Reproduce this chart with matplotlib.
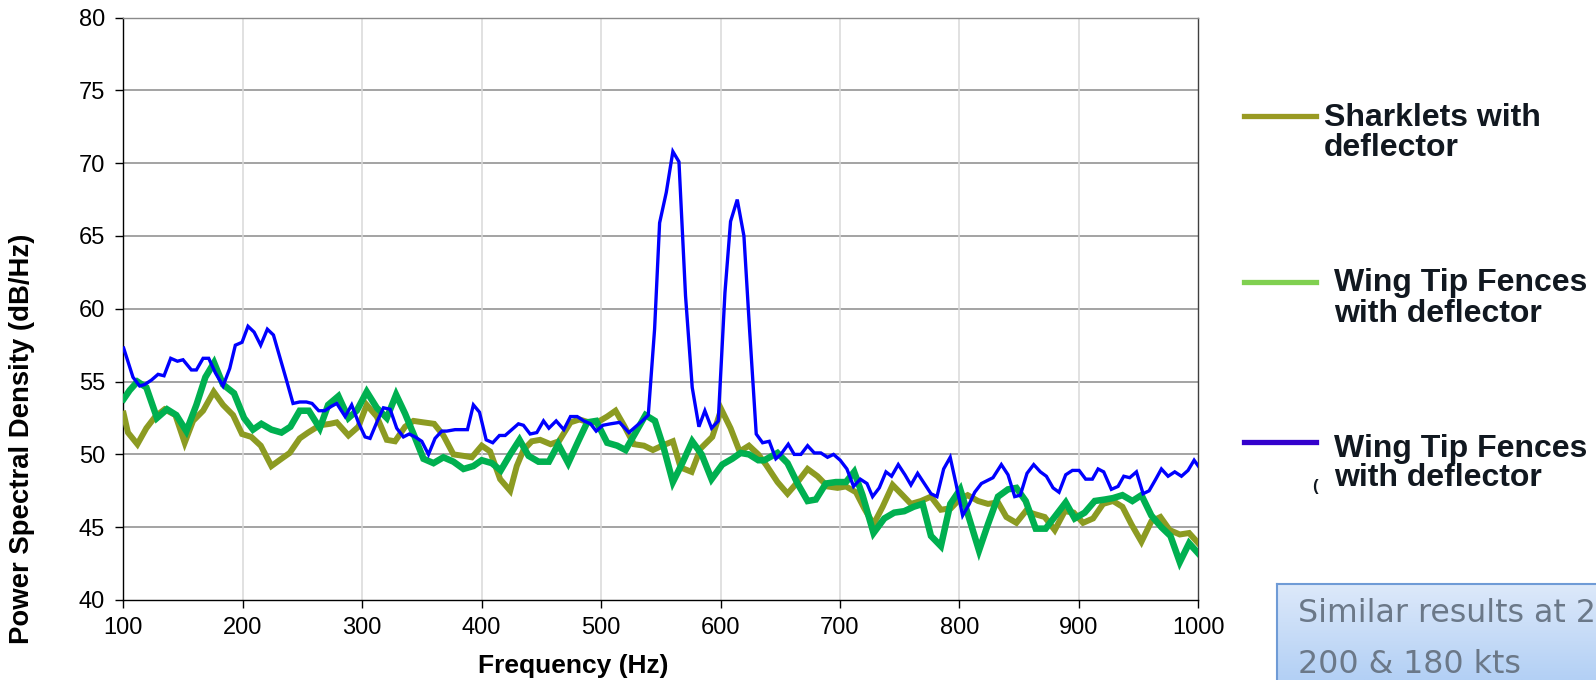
#!/usr/bin/env python3

import matplotlib as mpl
mpl.use('Agg')
import matplotlib.pyplot as plt
from matplotlib.lines import Line2D
import numpy as np

#======================================================================

W, H = 1596, 680

plt.rcParams['font.family'] = ['Liberation Sans', 'DejaVu Sans']

# Sharklets with deflector (olive)
sharklets_freq = [
    100.3, 103.9, 111.8, 119.3, 126.8, 134.6, 143.6, 151.4, 158.4, 166.8,
    175.7, 183.5, 191.9, 199.4, 207.2, 215.1, 224.0, 232.4, 239.3, 247.7,
    254.7, 264.5, 273.1, 278.7, 288.5, 296.8, 303.8, 312.2, 320.6, 327.5,
    335.9, 342.9, 351.3, 360.2, 368.0, 376.4, 384.8, 391.8, 400.1, 407.1,
    415.5, 423.9, 429.4, 435.0, 442.0, 449.0, 457.7, 464.7, 474.4, 481.9,
    489.8, 496.8, 505.1, 512.1, 519.1, 527.5, 535.9, 543.4, 551.2, 560.1,
    566.6, 575.8, 583.3, 593.1, 600.6, 608.4, 616.0, 623.8, 631.6, 638.0,
    647.7, 656.1, 664.5, 672.9, 681.2, 689.6, 698.0, 705.0, 713.4, 720.3,
    728.1, 735.7, 744.1, 752.4, 759.4, 767.8, 776.2, 784.5, 792.9, 799.9,
    806.9, 815.6, 823.9, 832.3, 839.3, 847.7, 855.5, 863.0, 871.4, 879.8,
    888.2, 895.7, 903.5, 911.9, 920.3, 928.6, 936.5, 944.0, 952.4, 960.7,
    968.3, 976.1, 984.5, 992.3, 1000.0]
sharklets_psd = [
    52.8, 51.5, 50.7, 51.8, 52.6, 53.1, 52.7, 50.8, 52.3, 53.0,
    54.3, 53.4, 52.7, 51.4, 51.2, 50.6, 49.2, 49.7, 50.1, 51.1,
    51.5, 52.0, 52.1, 52.2, 51.3, 51.9, 53.4, 52.6, 51.0, 50.9,
    51.9, 52.3, 52.2, 52.1, 51.3, 50.0, 49.9, 49.8, 50.6, 50.2,
    48.3, 47.5, 49.2, 50.3, 50.9, 51.0, 50.7, 50.9, 52.2, 52.4,
    52.2, 52.2, 52.6, 53.0, 52.0, 50.7, 50.6, 50.3, 50.6, 50.9,
    49.1, 48.8, 50.4, 51.2, 53.1, 51.8, 50.2, 50.6, 50.0, 49.3,
    48.1, 47.3, 48.1, 49.0, 48.5, 47.8, 47.7, 47.8, 47.4, 46.3,
    45.2, 46.4, 47.9, 47.2, 46.6, 46.8, 47.1, 46.2, 46.3, 46.9,
    47.2, 46.8, 46.6, 46.7, 45.7, 45.3, 46.1, 45.9, 45.7, 44.8,
    46.1, 46.0, 45.3, 45.6, 46.6, 46.8, 46.4, 45.2, 44.0, 45.4,
    45.7, 44.8, 44.5, 44.6, 43.9]

# Wing Tip Fences with deflector (green)
fences_freq = [
    100.3, 105.3, 111.8, 119.3, 128.2, 136.6, 144.4, 152.8, 161.2, 168.7,
    176.0, 183.5, 192.7, 201.1, 208.6, 215.6, 224.0, 232.4, 239.9, 247.7,
    255.3, 264.5, 271.5, 280.1, 288.5, 295.4, 303.8, 312.2, 320.6, 328.4,
    335.9, 343.5, 351.3, 359.7, 368.0, 376.4, 384.8, 393.1, 400.1, 408.5,
    416.0, 423.9, 431.7, 439.3, 447.6, 456.3, 464.1, 472.5, 480.9, 488.4,
    495.9, 505.1, 513.5, 520.5, 528.9, 537.2, 545.1, 552.6, 560.1, 568.0,
    576.3, 584.2, 592.5, 601.4, 609.8, 616.8, 623.8, 631.6, 636.6, 647.7,
    656.1, 664.5, 672.9, 679.8, 688.2, 696.6, 705.0, 711.9, 718.9, 728.1,
    737.1, 745.4, 753.8, 761.6, 769.2, 776.2, 784.5, 792.4, 800.7, 816.4,
    823.9, 832.3, 840.7, 847.7, 855.5, 863.9, 872.2, 880.6, 889.0, 896.5,
    904.9, 913.3, 921.7, 928.6, 936.5, 944.8, 952.4, 960.7, 969.1, 976.7,
    984.5, 992.3, 1000.0]
fences_psd = [
    53.8, 54.4, 55.0, 54.6, 52.5, 53.1, 52.7, 51.6, 53.4, 55.3,
    56.3, 54.8, 54.2, 52.5, 51.7, 52.1, 51.7, 51.5, 51.9, 53.0,
    53.0, 51.8, 53.4, 54.0, 52.5, 53.0, 54.3, 53.2, 52.5, 54.1,
    52.8, 51.3, 49.7, 49.4, 49.8, 49.5, 49.0, 49.2, 49.6, 49.4,
    48.9, 50.0, 51.0, 49.9, 49.5, 49.5, 50.7, 49.4, 50.9, 52.2,
    52.3, 50.8, 50.6, 50.3, 51.5, 52.7, 52.3, 50.4, 48.1, 49.4,
    50.9, 50.0, 48.3, 49.3, 49.7, 50.1, 50.0, 49.6, 49.6, 50.1,
    49.4, 48.0, 46.8, 46.9, 48.0, 48.1, 48.1, 48.8, 47.2, 44.6,
    45.6, 46.0, 46.1, 46.4, 46.6, 44.4, 43.7, 46.6, 47.6, 43.4,
    45.2, 47.1, 47.6, 47.7, 46.8, 44.9, 44.9, 45.8, 46.7, 45.6,
    46.0, 46.8, 46.9, 47.0, 47.2, 46.8, 47.2, 45.8, 45.0, 44.4,
    42.6, 43.9, 43.2]

# Wing Tip Fences with deflector (blue)
fences2_freq = [
    100.3, 108.1, 113.7, 117.9, 123.5, 129.1, 134.1, 139.7, 145.3, 150.0,
    157.0, 161.2, 166.8, 171.5, 177.1, 183.5, 189.1, 193.8, 199.4, 204.4,
    209.5, 215.0, 220.6, 225.7, 231.0, 236.6, 242.1, 247.7, 253.3, 258.0,
    263.6, 268.6, 274.2, 278.7, 285.7, 291.2, 296.8, 302.4, 306.6, 312.2,
    317.8, 323.4, 328.9, 334.5, 339.3, 344.3, 349.9, 355.5, 361.0, 366.6,
    370.8, 377.8, 383.4, 388.1, 393.1, 398.2, 403.8, 409.3, 414.9, 419.7,
    425.2, 430.8, 435.0, 440.6, 446.2, 451.8, 456.3, 462.4, 468.8, 474.4,
    480.0, 485.6, 491.2, 495.9, 501.5, 507.9, 515.5, 523.3, 528.9, 534.5,
    539.5, 544.8, 549.0, 554.6, 560.1, 565.2, 570.7, 576.3, 581.9, 586.9,
    592.5, 598.1, 603.7, 608.4, 614.0, 619.6, 624.3, 629.9, 635.2, 640.8,
    646.3, 650.5, 656.7, 661.7, 667.3, 672.9, 678.5, 684.0, 689.6, 694.6,
    700.2, 705.8, 711.4, 717.0, 722.6, 727.3, 732.9, 738.5, 743.2, 748.8,
    754.4, 759.4, 765.0, 770.6, 776.2, 781.2, 786.8, 792.3, 797.1, 802.7,
    808.3, 812.8, 818.4, 823.2, 828.1, 835.1, 840.7, 846.3, 851.0, 856.6,
    862.2, 867.8, 872.8, 878.4, 883.4, 889.0, 894.6, 900.2, 905.7, 911.3,
    916.1, 920.8, 927.2, 932.8, 937.6, 942.6, 948.2, 953.8, 958.8, 964.4,
    969.1, 974.7, 980.3, 985.9, 991.4, 996.5, 1000.0]
fences2_psd = [
    57.3, 55.3, 54.7, 54.8, 55.1, 55.5, 55.4, 56.6, 56.4, 56.5,
    55.8, 55.8, 56.6, 56.6, 55.6, 54.7, 55.9, 57.5, 57.7, 58.8,
    58.4, 57.5, 58.6, 58.2, 56.7, 55.1, 53.5, 53.6, 53.6, 53.5,
    53.0, 53.0, 53.3, 53.5, 52.6, 53.4, 52.2, 51.2, 51.1, 52.2,
    53.2, 53.1, 51.8, 51.2, 51.4, 51.2, 50.9, 50.0, 51.1, 51.6,
    51.6, 51.7, 51.7, 51.7, 53.4, 52.9, 51.0, 50.8, 51.3, 51.3,
    51.7, 52.1, 52.0, 51.4, 51.5, 52.3, 51.8, 52.3, 51.7, 52.6,
    52.6, 52.3, 52.1, 51.6, 52.0, 52.1, 52.2, 51.5, 51.9, 52.3,
    52.7, 58.6, 65.9, 68.0, 70.8, 70.1, 60.9, 54.6, 51.9, 53.0,
    51.8, 52.3, 61.1, 66.0, 67.5, 65.0, 58.6, 51.4, 50.8, 50.9,
    49.7, 50.0, 50.7, 50.0, 50.0, 50.6, 50.1, 50.1, 49.8, 50.0,
    49.6, 49.0, 47.8, 48.3, 48.0, 47.1, 47.7, 48.8, 48.5, 49.3,
    48.6, 47.9, 48.7, 48.0, 47.3, 47.1, 49.0, 49.8, 48.0, 45.8,
    46.6, 47.4, 48.0, 48.2, 48.4, 49.3, 48.6, 47.1, 47.2, 48.7,
    49.3, 48.8, 48.5, 47.7, 47.4, 48.6, 48.9, 48.9, 48.3, 48.3,
    49.0, 48.8, 47.6, 47.8, 48.5, 48.4, 48.8, 47.3, 47.5, 48.3,
    49.0, 48.5, 48.8, 48.5, 48.9, 49.6, 49.2]

legend_labels = [
    'Sharklets with\ndeflector',
    'Wing Tip Fences\nwith deflector',
    'Wing Tip Fences\nwith deflector',
]

note_lines = ['Similar results at 2', '200 & 180 kts']

#======================================================================

def fx(px):
    return px/W

def fy(py):
    return 1.0 - py/H

def main():
    fig = plt.figure(figsize=(W/100, H/100), dpi=100)
    ax = fig.add_axes([fx(123.3), fy(600), fx(1198.3) - fx(123.3),
                       fy(17.6) - fy(600)])

    ax.plot(sharklets_freq, sharklets_psd, color='#8c9b22', lw=4.3,
            solid_joinstyle='miter', zorder=3)
    ax.plot(fences_freq, fences_psd, color='#00b050', lw=4.7,
            solid_joinstyle='miter', zorder=4)
    ax.plot(fences2_freq, fences2_psd, color='#0000ff', lw=2.4,
            solid_joinstyle='miter', zorder=5)

    ax.set_xlim(100, 1000)
    ax.set_ylim(40, 80)
    ax.set_xticks(np.arange(100, 1001, 100))
    ax.set_yticks(np.arange(40, 81, 5))

    for y in np.arange(45, 81, 5):
        ax.axhline(y, color='#8a8a8a', lw=1.1, zorder=1)
    for x in np.arange(200, 1000, 100):
        ax.axvline(x, color='#d9d9d9', lw=1.1, zorder=1)

    ax.spines['left'].set_color('black')
    ax.spines['bottom'].set_color('black')
    ax.spines['right'].set_color('#404040')
    ax.spines['top'].set_color('#8a8a8a')
    for s in ax.spines.values():
        s.set_linewidth(1.0)

    ax.tick_params(axis='both', direction='out', length=6, width=1,
                   labelsize=17, pad=6)
    ax.tick_params(axis='y', pad=7)

    # axis titles sit off-centre in the original, so place them by hand
    fig.text(fx(573), fy(666), 'Frequency (Hz)', fontsize=19,
             fontweight='bold', ha='center', va='center')
    fig.text(fx(22.4), fy(439), 'Power Spectral Density (dB/Hz)',
             fontsize=19.8, fontweight='bold', rotation=90,
             ha='center', va='center')

    # hand-made legend (legend swatches use their own colours)
    legend_colors = ['#999a22', '#80d050', '#3300cc']
    legend_line_y = [116, 282, 442]
    legend_text = [(1324, 133), (1334, 298.5), (1334, 463.5)]
    for color, ly, (tx, ty), label in zip(legend_colors, legend_line_y,
                                          legend_text, legend_labels):
        fig.add_artist(Line2D([fx(1244), fx(1316)], [fy(ly), fy(ly)],
                              color=color, lw=3.8,
                              transform=fig.transFigure))
        fig.text(fx(tx), fy(ty), label, fontsize=23, fontweight='bold',
                 color='#111820', ha='left', va='center', linespacing=1.0)
    # stray bracket left over under the last legend entry
    fig.text(fx(1315), fy(486), '(', fontsize=12, fontweight='bold',
             color='#111820', ha='center', va='center')

    # note box with gradient, cut by the figure edge
    bax = fig.add_axes([fx(1277), 0.0, 1.0 - fx(1277) + 0.01, fy(584)])
    grad = np.linspace(0, 1, 64)[:, None]
    cmap = mpl.colors.LinearSegmentedColormap.from_list(
        'note', ['#dde9fa', '#b3d0f5'])
    bax.imshow(grad, aspect='auto', cmap=cmap, extent=[0, 1, 0, 1])
    bax.set_xticks([])
    bax.set_yticks([])
    for side in ['right', 'bottom']:
        bax.spines[side].set_visible(False)
    for side in ['left', 'top']:
        bax.spines[side].set_color('#6f9bd6')
        bax.spines[side].set_linewidth(1.5)

    for text, base in zip(note_lines, [621.5, 673]):
        fig.text(fx(1298), fy(base), text, fontsize=22.8,
                 family='DejaVu Sans', color='#6b7888', ha='left',
                 va='baseline')

    fig.savefig('out.png', dpi=100)
    plt.close()

#======================================================================

if __name__ == '__main__':
    main()
